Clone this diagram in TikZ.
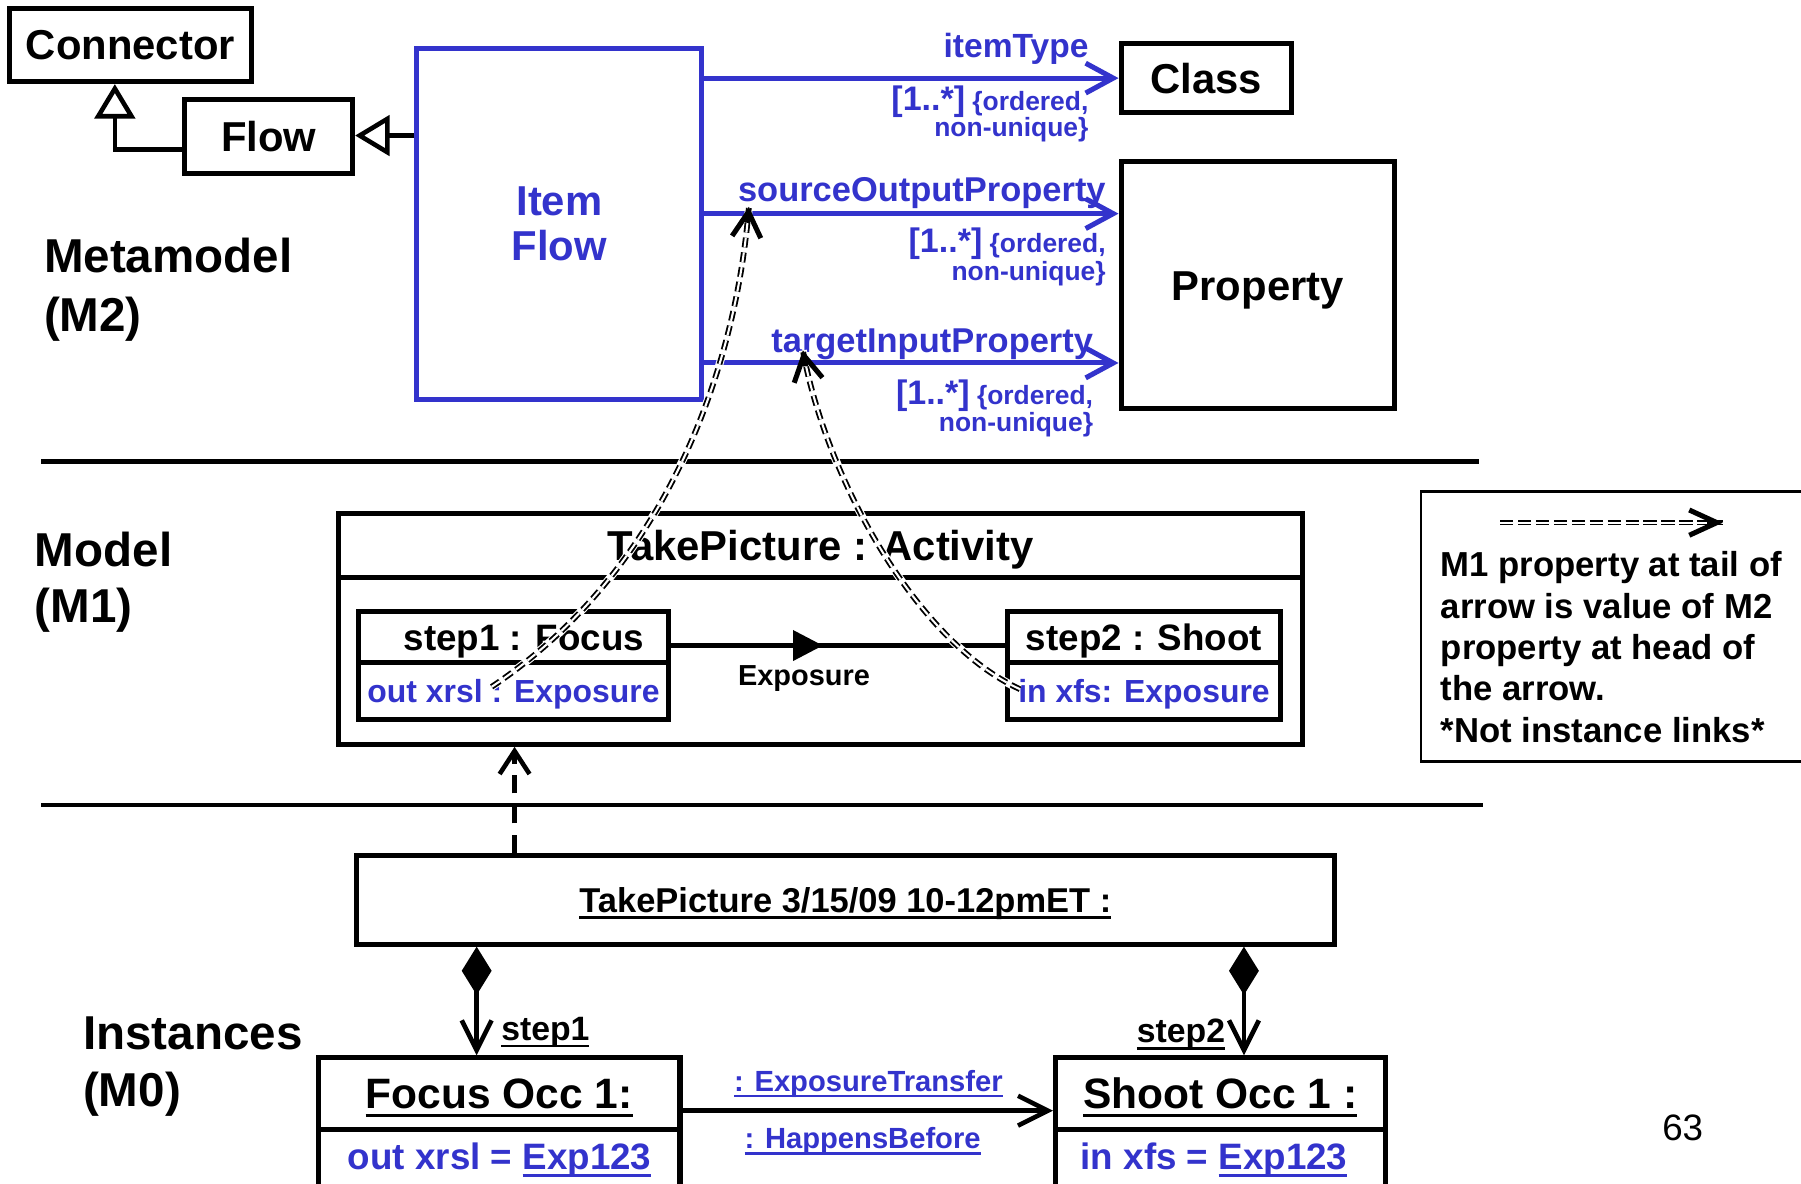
\documentclass[tikz,border=0pt]{standalone}
\usepackage{fontspec}
\setmainfont{Liberation Sans}
\usetikzlibrary{arrows.meta,calc,decorations.markings}
\definecolor{ublue}{RGB}{51,51,204}
\newcommand\fsz[2]{\fontsize{#1}{#2}\selectfont}
\newcommand\ulx[1]{\setbox0\hbox{#1}\rlap{\rule[-0.2em]{\wd0}{0.08em}}\box0}
\begin{document}
\begin{tikzpicture}[x=0.5pt,y=-0.5pt,
  box/.style={draw,line width=2.2pt,inner sep=0pt,font=\bfseries\fsz{18.2}{20}},
  cc/.style={text height=#1,text depth=0pt},
  gen/.style={line width=2pt,-{Triangle[open,length=15pt,width=17.5pt]}},
  assoc/.style={draw=ublue,line width=2.2pt,-{Straight Barb[length=12pt,width=13pt]}},
  lbl/.style={text=ublue,font=\bfseries\fsz{15}{16},inner sep=0pt},
  mlt/.style={text=ublue,font=\bfseries\fsz{11.5}{13},inner sep=0pt},
  sec/.style={font=\bfseries\fsz{20.7}{24},inner sep=0pt},
  under/.style={draw=white,line width=3.4pt},
  dbl/.style={draw=black,double=white,double distance=0.9pt,line width=0.8pt,dash pattern=on 4.3pt off 2.2pt},
  dhead/.style={draw=black,line width=2.2pt,-{Straight Barb[length=11pt,width=12.5pt]}},
  comp/.style={line width=2pt,{Diamond[length=21pt,width=13pt]}-{Straight Barb[length=13pt,width=13pt]}},
  plain/.style={line width=2pt,-{Straight Barb[length=13pt,width=13pt]}}
]
\useasboundingbox (0,0) rectangle (1568,1030);
\fill[white] (0,0) rectangle (1568,1030);

% ---------------- M2 ----------------
\node[box,cc=13.1pt,minimum width=105.5pt,minimum height=32pt] (connector) at (113.5,39) {Connector};
\node[box,cc=13.1pt,minimum width=73pt,minimum height=32pt] (flow) at (234,119) {Flow};
\node[box,draw=ublue,text=ublue,align=center,minimum width=124pt,minimum height=153pt,font=\bfseries\fsz{18.2}{19.5}] (itemflow) at (487,195) {Item\\Flow};
\node[box,cc=13.1pt,minimum width=74pt,minimum height=30pt] (class) at (1050,68) {Class};
\node[box,cc=13.1pt,minimum width=119pt,minimum height=107.5pt] (property) at (1095,248.5) {Property};

\coordinate (gy) at (0,130);
\coordinate (gx) at (100,0);
\draw[gen] (flow.west |- gy) -| (connector.south -| gx);
\coordinate (fy) at (0,118);
\draw[gen] (itemflow.west |- fy) -- (flow.east |- fy);

\coordinate (y1) at (0,68);
\coordinate (y2) at (0,186);
\coordinate (y3) at (0,316);
\draw[assoc] (itemflow.east |- y1) -- (class.west |- y1);
\draw[assoc] (itemflow.east |- y2) -- (property.west |- y2);
\draw[assoc] (itemflow.east |- y3) -- (property.west |- y3);

\node[lbl,anchor=base east,font=\bfseries\fsz{14.6}{16}] (l1) at (948,50) {itemType};
\node[mlt,anchor=base east] (m1a) at (948,96) {{\fsz{14.8}{16}[1..*]} \{ordered,};
\node[mlt,anchor=base east] (m1b) at (948,119) {non-unique\}};
\node[lbl,anchor=base east] (l2) at (963,175) {sourceOutputProperty};
\node[mlt,anchor=base east] (m2a) at (963,220) {{\fsz{14.8}{16}[1..*]} \{ordered,};
\node[mlt,anchor=base east] (m2b) at (963,244) {non-unique\}};
\node[lbl,anchor=base east] (l3) at (952,307) {targetInputProperty};
\node[mlt,anchor=base east] (m3a) at (952,352) {{\fsz{14.8}{16}[1..*]} \{ordered,};
\node[mlt,anchor=base east] (m3b) at (952,376) {non-unique\}};

\node[sec,anchor=base west] (sec2a) at (38,237) {Metamodel};
\node[sec,anchor=base west] (sec2b) at (38,289) {(M2)};

% separators
\coordinate (s1a) at (36,402);
\coordinate (s1b) at (1288,402);
\draw[line width=2pt] (s1a) -- (s1b);
\coordinate (s2a) at (36,701);
\coordinate (s2b) at (1291,701);
\draw[line width=2pt] (s2a) -- (s2b);

% ---------------- M1 ----------------
\node[sec,anchor=base west] (sec1a) at (30,493) {Model};
\node[sec,anchor=base west] (sec1b) at (30,542) {(M1)};

\node[box,cc=13.1pt,minimum width=419.5pt,minimum height=28pt] (acth) at (714.5,475) {TakePicture : Activity};
\node[box,minimum width=419.5pt,minimum height=72.5pt] (actb) at (714.5,575.5) {};

\node[box,cc=11.5pt,minimum width=135pt,minimum height=22.5pt,font=\bfseries\fsz{16}{18}] (s1h) at (447,554.5) {\hspace{9pt}step1 : Focus};
\node[box,cc=10pt,minimum width=135pt,minimum height=24.5pt,text=ublue,font=\bfseries\fsz{13.9}{16}] (s1b) at (447,601.5) {out xrsl : Exposure};
\node[box,cc=11.5pt,minimum width=119pt,minimum height=22.5pt,font=\bfseries\fsz{16}{18}] (s2h) at (996,554.5) {step2 : Shoot};
\node[box,cc=10pt,minimum width=119pt,minimum height=24.5pt,text=ublue,font=\bfseries\fsz{13.9}{16}] (s2b) at (996,601.5) {in xfs: Exposure};

\coordinate (ey) at (0,562);
\draw[line width=1.9pt,postaction={decorate},decoration={markings,mark=at position 0.455 with {\arrow{Triangle[length=13pt,width=13pt]}}}] (s1h.east |- ey) -- (s2h.west |- ey);
\node[cc=9.1pt,font=\bfseries\fsz{12.6}{14},inner sep=0pt] (exlbl) at (700,588) {Exposure};

% legend
\node[draw,line width=1pt,minimum width=171.5pt,minimum height=117.5pt] (legend) at (1408.5,545.5) {};
\node[anchor=north west,align=left,inner sep=0pt,font=\bfseries\fsz{15.1}{18}] (legtext) at (1254,480) {M1 property at tail of\\arrow is value of M2\\property at head of\\the arrow.\\*Not instance links*};
\coordinate (la) at (1306,455);
\coordinate (lb) at (1500,455);
\draw[dbl,dash pattern=on 5.8pt off 2pt] (la) -- (lb);
\draw[dhead,-{Straight Barb[length=12pt,width=11pt]}] ($(lb)!7pt!(la)$) -- (lb);

% ---------------- M0 ----------------
\node[sec,anchor=base west] (sec0a) at (72,914) {Instances};
\node[sec,anchor=base west] (sec0b) at (72,963) {(M0)};

\node[box,cc=10.8pt,minimum width=426pt,minimum height=38.5pt,font=\bfseries\fsz{15}{17}] (tpi) at (736,783.5) {\ulx{TakePicture 3/15/09 10-12pmET :}};

\coordinate (ix) at (448,0);
\draw[line width=2pt,dash pattern=on 8pt off 5pt,-{Straight Barb[length=10pt,width=13pt]}] (tpi.north -| ix) -- (actb.south -| ix);

\node[box,cc=13.3pt,minimum width=157.5pt,minimum height=31pt,font=\bfseries\fsz{18.5}{20}] (fh) at (434.5,952) {\ulx{Focus Occ 1:}};
\node[box,minimum width=157.5pt,minimum height=38.5pt] (fb) at (434.5,1021.5) {};
\node[cc=11.5pt,text=ublue,inner sep=0pt,font=\bfseries\fsz{16}{18}] (fv) at (435,1007) {out xrsl = \ulx{Exp123}};
\node[box,cc=13.3pt,minimum width=143.5pt,minimum height=31pt,font=\bfseries\fsz{18.5}{20}] (sh) at (1062.5,952) {\ulx{Shoot Occ 1 :}};
\node[box,minimum width=143.5pt,minimum height=38.5pt] (sb) at (1062.5,1021.5) {};
\node[cc=11.5pt,text=ublue,inner sep=0pt,font=\bfseries\fsz{16}{18}] (sv) at (1057,1007) {in xfs = \ulx{Exp123}};

\coordinate (c1) at (415,0);
\coordinate (c2) at (1083,0);
\draw[comp] (tpi.south -| c1) -- (fh.north -| c1);
\draw[comp] (tpi.south -| c2) -- (sh.north -| c2);
\node[anchor=base west,inner sep=0pt,font=\bfseries\fsz{14.7}{16}] (st1) at (436,906) {\ulx{step1}};
\node[anchor=base east,inner sep=0pt,font=\bfseries\fsz{14.7}{16}] (st2) at (1067,908) {\ulx{step2}};

\coordinate (hy) at (0,967);
\draw[plain] (fh.east |- hy) -- (sh.west |- hy);
\node[cc=9.1pt,text=ublue,inner sep=0pt,font=\bfseries\fsz{12.7}{14}] (et) at (756,941) {\ulx{: ExposureTransfer}};
\node[cc=9.1pt,text=ublue,inner sep=0pt,font=\bfseries\fsz{12.7}{14}] (hb) at (751,991) {\ulx{: HappensBefore}};

\node[cc=11.5pt,inner sep=0pt,font=\fsz{16}{18}] (pg) at (1465,981) {63};

% ---------------- dashed double arrows (on top) ----------------
\coordinate (d1s) at (428,598);
\coordinate (d1e) at (652,180);
\draw[under] (d1s) .. controls (575,500) and (640,330) .. (d1e);
\draw[dbl] (d1s) .. controls (575,500) and (640,330) .. (d1e);
\draw[dhead] ($(d1e)!7pt!(640,330)$) -- (d1e);

\coordinate (d2s) at (888,600);
\coordinate (d2e) at (699,305);
\draw[under] (d2s) .. controls (800,560) and (720,420) .. (d2e);
\draw[dbl] (d2s) .. controls (800,560) and (720,420) .. (d2e);
\draw[dhead] ($(d2e)!7pt!(720,420)$) -- (d2e);
\end{tikzpicture}
\end{document}
